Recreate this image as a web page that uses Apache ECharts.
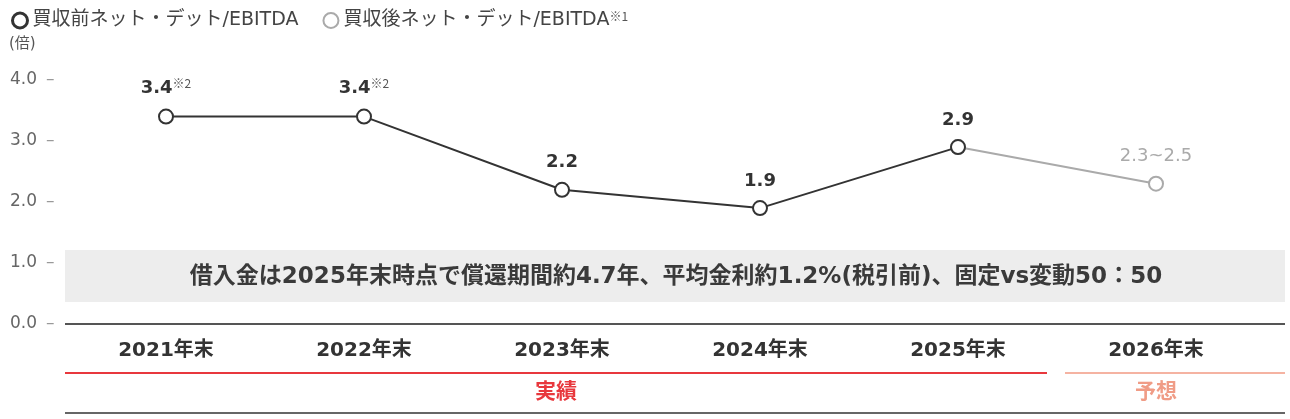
<!DOCTYPE html>
<html>
<head>
<meta charset="utf-8">
<script src="https://cdn.jsdelivr.net/npm/echarts@6/dist/echarts.min.js"></script>
<style>
html,body{margin:0;padding:0;background:#fff;}
#chart{width:1290px;height:419px;}
</style>
</head>
<body>
<div id="chart"></div>
<script>
var years = ['2021年末', '2022年末', '2023年末', '2024年末', '2025年末', '2026年末'];
var beforeVals = [3.4, 3.4, 2.2, 1.9, 2.9, null];
var afterVals = [null, null, null, null, 2.9, 2.3];
var beforeLabels = ['3.4', '3.4', '2.2', '1.9', '2.9', ''];
var beforeNotes = ['※2', '※2', '', '', '', ''];
var afterLabel = '2.3~2.5';
var yTicks = [0, 1, 2, 3, 4];
var legendNames = ['買収前ネット・デット/EBITDA', '買収後ネット・デット/EBITDA'];
var note = '借入金は2025年末時点で償還期間約4.7年、平均金利約1.2%(税引前)、固定vs変動50：50';

var FONT = '"DejaVu Sans", "Noto Sans CJK JP", sans-serif';
var CJK = '"Noto Sans CJK JP", sans-serif';
var chart = echarts.init(document.getElementById('chart'));

var option = {
    animation: false,
    textStyle: {fontFamily: FONT},
    grid: {left: 67, width: 1188, top: 80, height: 244},
    legend: {
        left: 6, top: 5,
        itemGap: 24,
        itemWidth: 15, itemHeight: 15,
        icon: 'circle',
        data: [
            {name: legendNames[0], itemStyle: {color: '#fff', borderColor: '#333', borderWidth: 3}},
            {name: legendNames[1], itemStyle: {color: '#fff', borderColor: '#aaa', borderWidth: 2}}
        ],
        formatter: function (n) {
            return n === legendNames[1] ? n + '{s|※1}' : n;
        },
        textStyle: {
            fontSize: 19, color: '#444', fontFamily: FONT,
            rich: {s: {fontSize: 12, color: '#555', verticalAlign: 'top', padding: [0, 0, 9, 0], fontFamily: CJK}}
        }
    },
    xAxis: {
        type: 'category',
        data: years,
        axisLine: {show: false},
        axisTick: {show: false},
        axisLabel: {margin: 17, fontSize: 20, fontWeight: 'bold', color: '#333', fontFamily: FONT}
    },
    yAxis: {
        type: 'value',
        min: 0, max: 4, interval: 1,
        splitLine: {show: false},
        axisLine: {show: false},
        axisTick: {show: false},
        axisLabel: {
            align: 'left', margin: 57,
            formatter: function (v) {
                return yTicks.indexOf(v) >= 0 ? '{v|' + v.toFixed(1) + '}{d|–}' : '';
            },
            rich: {
                v: {fontSize: 17, color: '#666', fontFamily: FONT},
                d: {fontSize: 17, color: '#999', padding: [0, 0, 0, 9], fontFamily: FONT}
            }
        }
    },
    graphic: [
        {type: 'text', left: 9, top: 37, style: {text: '(倍)', fontSize: 15, fill: '#555', fontFamily: FONT}},
        {type: 'rect', z: -1, shape: {x: 65, y: 250, width: 1220, height: 52}, style: {fill: '#ededed'}},
        {type: 'text', z: 5, x: 676, y: 277, style: {text: note, fontSize: 23, fontWeight: 'bold', fill: '#3a3a3a', align: 'center', verticalAlign: 'middle', fontFamily: FONT}},
        {type: 'line', shape: {x1: 65, y1: 324, x2: 1285, y2: 324}, style: {stroke: '#555', lineWidth: 2}},
        {type: 'line', shape: {x1: 65, y1: 373, x2: 1047, y2: 373}, style: {stroke: '#e8383d', lineWidth: 2}},
        {type: 'line', shape: {x1: 1065, y1: 373, x2: 1285, y2: 373}, style: {stroke: '#f5b3a2', lineWidth: 2}},
        {type: 'text', x: 556, y: 393, style: {text: '実績', fontSize: 21, fontWeight: 'bold', fill: '#e8383d', align: 'center', verticalAlign: 'middle', fontFamily: FONT}},
        {type: 'text', x: 1156, y: 393, style: {text: '予想', fontSize: 21, fontWeight: 'bold', fill: '#f09c86', align: 'center', verticalAlign: 'middle', fontFamily: FONT}},
        {type: 'line', shape: {x1: 65, y1: 413, x2: 1285, y2: 413}, style: {stroke: '#666', lineWidth: 2}}
    ],
    series: [
        {
            name: legendNames[1],
            type: 'line',
            data: afterVals,
            symbol: 'circle', symbolSize: 14,
            lineStyle: {color: '#aaa', width: 2},
            itemStyle: {color: '#fff', borderColor: '#aaa', borderWidth: 2},
            label: {
                show: true, position: 'top', distance: 10,
                formatter: function (p) { return p.dataIndex === 5 ? afterLabel : ''; },
                fontSize: 18, color: '#aaa', fontFamily: FONT
            },
            z: 2
        },
        {
            name: legendNames[0],
            type: 'line',
            data: beforeVals,
            symbol: 'circle', symbolSize: 14,
            lineStyle: {color: '#333', width: 2},
            itemStyle: {color: '#fff', borderColor: '#333', borderWidth: 2},
            label: {
                show: true, position: 'top', distance: 10,
                formatter: function (p) {
                    var s = '{b|' + beforeLabels[p.dataIndex] + '}';
                    if (beforeNotes[p.dataIndex]) s += '{s|' + beforeNotes[p.dataIndex] + '}';
                    return s;
                },
                rich: {
                    b: {fontSize: 18, fontWeight: 'bold', color: '#333', fontFamily: FONT},
                    s: {fontSize: 12, color: '#555', verticalAlign: 'top', padding: [0, 0, 9, 0], fontFamily: CJK}
                }
            },
            z: 3
        }
    ]
};
chart.setOption(option);
</script>
</body>
</html>
